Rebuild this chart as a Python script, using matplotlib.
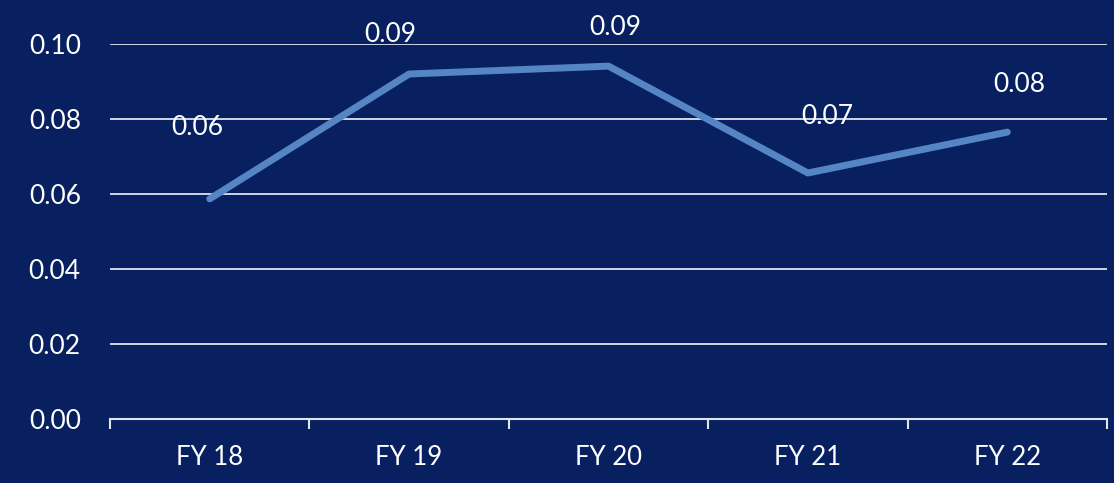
import matplotlib
matplotlib.use("Agg")
import matplotlib.pyplot as plt
from matplotlib.ticker import FixedLocator

years = ["FY 18", "FY 19", "FY 20", "FY 21", "FY 22"]
ratio = [0.0587, 0.0920, 0.0941, 0.0656, 0.0765]
yticks = [0.00, 0.02, 0.04, 0.06, 0.08, 0.10]

# label offsets in pixels (Excel placed them by hand)
label_dx = [-12, -19, 7, 19, 12]
label_dy = [71, 39, 39, 56, 48]

bg = "#08205f"
plt.rcParams["font.family"] = ["Lato", "DejaVu Sans"]

fig = plt.figure(figsize=(11.14, 4.83), dpi=100, facecolor=bg)
ax = fig.add_axes([110 / 1114, 1 - 419 / 483, 997 / 1114, 375 / 483])
ax.set_facecolor(bg)

x = list(range(len(years)))
ax.plot(x, ratio, color="#5585c4", lw=5, solid_capstyle="round", zorder=3)

for i, v in enumerate(ratio):
    ax.annotate(f"{v:.2f}", (x[i], v), xytext=(label_dx[i], label_dy[i]),
                textcoords="offset pixels", ha="center", va="center",
                color="white", fontsize=19, zorder=4, annotation_clip=False)

ax.set_xlim(-0.5, len(years) - 0.5)
ax.set_ylim(0, 0.10)
ax.set_yticks(yticks)
ax.set_yticklabels([f"{t:.2f}" for t in yticks])
ax.grid(axis="y", color="#dfe4ee", lw=1.3)
ax.set_axisbelow(True)

ax.set_xticks(x)
ax.set_xticklabels(years)
ax.xaxis.set_minor_locator(FixedLocator([i - 0.5 for i in range(len(years) + 1)]))
ax.tick_params(axis="x", which="major", length=0, pad=19, labelcolor="white", labelsize=18.5)
ax.tick_params(axis="x", which="minor", length=7, width=1.5, color="#dfe4ee", direction="out")
ax.tick_params(axis="y", length=0, pad=21, labelcolor="white", labelsize=19)

for s in ["top", "right", "left"]:
    ax.spines[s].set_visible(False)
ax.spines["bottom"].set_color("#dfe4ee")
ax.spines["bottom"].set_linewidth(1.5)

fig.savefig("out.png", dpi=100, facecolor=bg)
